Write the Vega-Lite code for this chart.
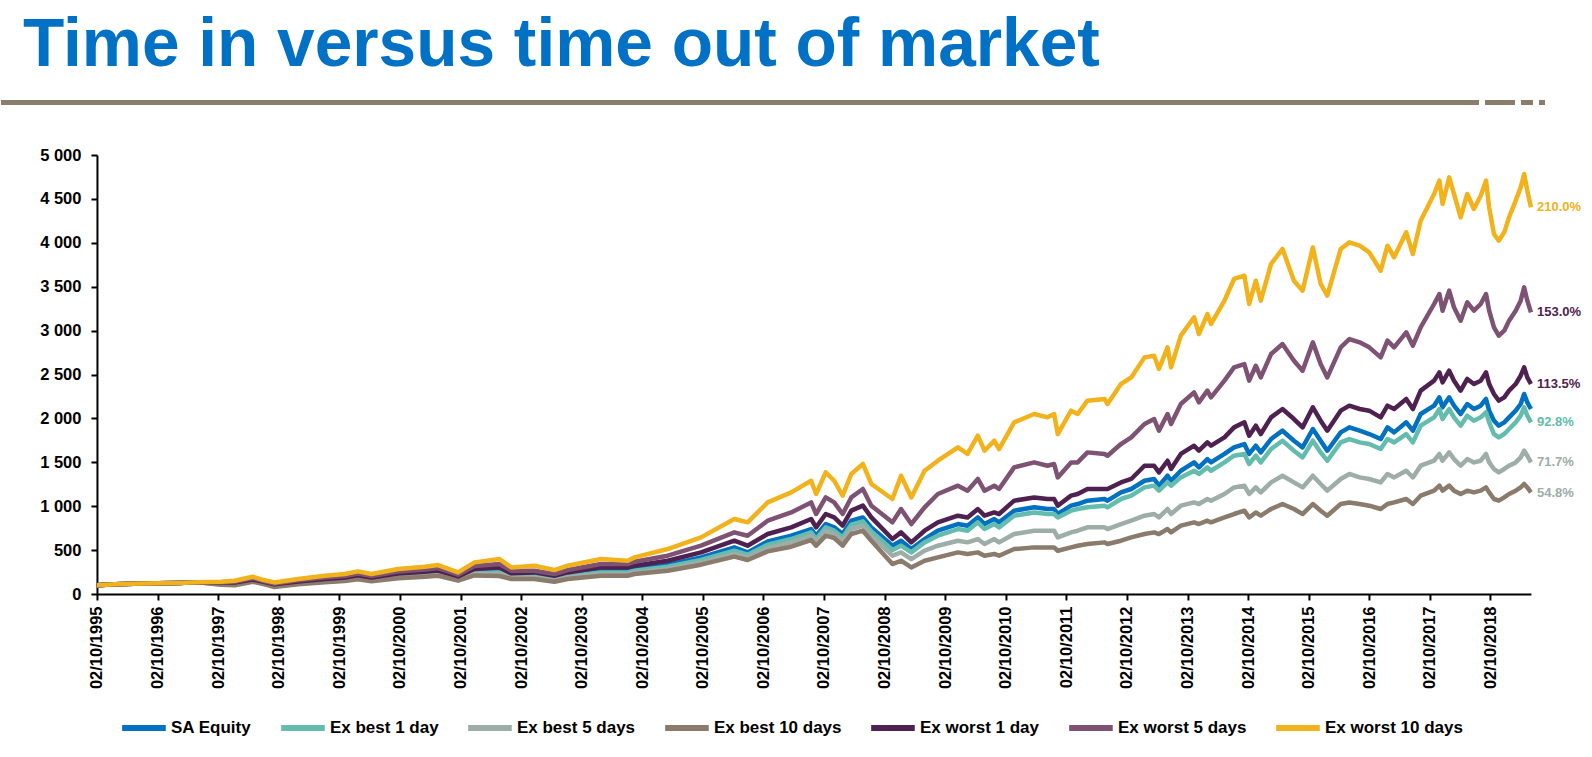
{
"$schema":"https://vega.github.io/schema/vega-lite/v6.json",
"padding":{"top":12,"left":0,"right":0,"bottom":0},
"background":"white",
"config":{"view":{"stroke":null},"font":"Liberation Sans"},
"title":{"text":"Time in versus time out of market","anchor":"start","dx":22,"offset":19,"font":"Liberation Sans","fontSize":67.6,"fontWeight":"bold","color":"#0071C5"},
"datasets":{
"labels":[
{"series":"Ex worst 10 days","date":"2019-06-04","value":4404,"label":"210.0%"},
{"series":"Ex worst 5 days","date":"2019-06-04","value":3208,"label":"153.0%"},
{"series":"Ex worst 1 day","date":"2019-06-04","value":2392,"label":"113.5%"},
{"series":"Ex best 1 day","date":"2019-06-04","value":1955,"label":"92.8%"},
{"series":"Ex best 5 days","date":"2019-06-04","value":1499,"label":"71.7%"},
{"series":"Ex best 10 days","date":"2019-06-04","value":1150,"label":"54.8%"}
],
"series":[
{"date":"1995-10-02","series":"SA Equity","value":100},{"date":"1996-01-20","series":"SA Equity","value":112},{"date":"1996-05-10","series":"SA Equity","value":118},{"date":"1996-10-02","series":"SA Equity","value":122},{"date":"1997-02-01","series":"SA Equity","value":126},{"date":"1997-06-01","series":"SA Equity","value":134},{"date":"1997-10-20","series":"SA Equity","value":125},{"date":"1998-01-09","series":"SA Equity","value":122},{"date":"1998-04-28","series":"SA Equity","value":158},{"date":"1998-07-03","series":"SA Equity","value":130},{"date":"1998-09-06","series":"SA Equity","value":102},{"date":"1999-01-27","series":"SA Equity","value":133},{"date":"1999-07-06","series":"SA Equity","value":160},{"date":"1999-11-04","series":"SA Equity","value":175},{"date":"2000-01-23","series":"SA Equity","value":200},{"date":"2000-04-13","series":"SA Equity","value":175},{"date":"2000-09-21","series":"SA Equity","value":216},{"date":"2001-03-01","series":"SA Equity","value":235},{"date":"2001-05-20","series":"SA Equity","value":250},{"date":"2001-09-17","series":"SA Equity","value":186},{"date":"2001-12-25","series":"SA Equity","value":262},{"date":"2002-05-25","series":"SA Equity","value":273},
{"date":"2002-08-05","series":"SA Equity","value":220},{"date":"2002-12-21","series":"SA Equity","value":228},{"date":"2003-04-21","series":"SA Equity","value":189},{"date":"2003-07-10","series":"SA Equity","value":220},{"date":"2004-01-27","series":"SA Equity","value":265},{"date":"2004-07-06","series":"SA Equity","value":265},{"date":"2004-08-16","series":"SA Equity","value":285},{"date":"2005-03-04","series":"SA Equity","value":334},{"date":"2005-09-21","series":"SA Equity","value":417},{"date":"2006-04-10","series":"SA Equity","value":531},{"date":"2006-06-29","series":"SA Equity","value":474},{"date":"2006-10-28","series":"SA Equity","value":599},{"date":"2007-03-19","series":"SA Equity","value":664},{"date":"2007-07-17","series":"SA Equity","value":740},{"date":"2007-08-16","series":"SA Equity","value":664},{"date":"2007-10-13","series":"SA Equity","value":797},{"date":"2007-12-03","series":"SA Equity","value":759},{"date":"2008-01-23","series":"SA Equity","value":683},{"date":"2008-03-15","series":"SA Equity","value":835},{"date":"2008-05-24","series":"SA Equity","value":872},{"date":"2008-07-14","series":"SA Equity","value":759},{"date":"2008-11-18","series":"SA Equity","value":550},{"date":"2009-01-09","series":"SA Equity","value":607},
{"date":"2009-03-12","series":"SA Equity","value":512},{"date":"2009-05-31","series":"SA Equity","value":626},{"date":"2009-08-19","series":"SA Equity","value":721},{"date":"2009-12-18","series":"SA Equity","value":797},{"date":"2010-02-14","series":"SA Equity","value":778},{"date":"2010-04-17","series":"SA Equity","value":872},{"date":"2010-05-27","series":"SA Equity","value":797},{"date":"2010-07-25","series":"SA Equity","value":854},{"date":"2010-08-23","series":"SA Equity","value":816},{"date":"2010-11-22","series":"SA Equity","value":949},{"date":"2011-03-23","series":"SA Equity","value":987},{"date":"2011-06-11","series":"SA Equity","value":968},{"date":"2011-07-21","series":"SA Equity","value":968},{"date":"2011-08-12","series":"SA Equity","value":911},{"date":"2011-10-31","series":"SA Equity","value":1006},{"date":"2011-12-10","series":"SA Equity","value":1025},{"date":"2012-02-07","series":"SA Equity","value":1063},{"date":"2012-05-20","series":"SA Equity","value":1082},{"date":"2012-06-07","series":"SA Equity","value":1063},{"date":"2012-08-27","series":"SA Equity","value":1157},{"date":"2012-10-28","series":"SA Equity","value":1196},{"date":"2013-01-16","series":"SA Equity","value":1290},{"date":"2013-03-15","series":"SA Equity","value":1310},{"date":"2013-04-13","series":"SA Equity","value":1234},{"date":"2013-06-04","series":"SA Equity","value":1347},{"date":"2013-06-25","series":"SA Equity","value":1290},{"date":"2013-08-23","series":"SA Equity","value":1404},{"date":"2013-11-11","series":"SA Equity","value":1499},{"date":"2013-12-10","series":"SA Equity","value":1442},{"date":"2014-01-30","series":"SA Equity","value":1537},{"date":"2014-02-21","series":"SA Equity","value":1499},{"date":"2014-05-13","series":"SA Equity","value":1595},{"date":"2014-07-10","series":"SA Equity","value":1670},{"date":"2014-09-10","series":"SA Equity","value":1708},
{"date":"2014-10-09","series":"SA Equity","value":1595},{"date":"2014-11-18","series":"SA Equity","value":1689},{"date":"2014-12-18","series":"SA Equity","value":1613},{"date":"2015-02-18","series":"SA Equity","value":1765},{"date":"2015-04-28","series":"SA Equity","value":1860},{"date":"2015-07-06","series":"SA Equity","value":1746},{"date":"2015-08-27","series":"SA Equity","value":1670},{"date":"2015-10-28","series":"SA Equity","value":1879},{"date":"2015-12-14","series":"SA Equity","value":1746},{"date":"2016-01-23","series":"SA Equity","value":1632},{"date":"2016-04-13","series":"SA Equity","value":1841},{"date":"2016-06-04","series":"SA Equity","value":1898},{"date":"2016-08-05","series":"SA Equity","value":1860},{"date":"2016-10-02","series":"SA Equity","value":1822},{"date":"2016-12-10","series":"SA Equity","value":1765},{"date":"2017-01-20","series":"SA Equity","value":1898},{"date":"2017-03-01","series":"SA Equity","value":1841},{"date":"2017-05-13","series":"SA Equity","value":1955},{"date":"2017-06-22","series":"SA Equity","value":1860},{"date":"2017-08-08","series":"SA Equity","value":2050},{"date":"2017-10-28","series":"SA Equity","value":2145},{"date":"2017-11-29","series":"SA Equity","value":2240},{"date":"2017-12-18","series":"SA Equity","value":2126},{"date":"2018-01-27","series":"SA Equity","value":2240},{"date":"2018-02-25","series":"SA Equity","value":2145},{"date":"2018-04-06","series":"SA Equity","value":2050},{"date":"2018-05-16","series":"SA Equity","value":2164},{"date":"2018-06-25","series":"SA Equity","value":2107},{"date":"2018-08-05","series":"SA Equity","value":2145},{"date":"2018-09-06","series":"SA Equity","value":2221},{"date":"2018-09-25","series":"SA Equity","value":2088},{"date":"2018-10-24","series":"SA Equity","value":1974},{"date":"2018-11-22","series":"SA Equity","value":1917},{"date":"2018-12-25","series":"SA Equity","value":1955},{"date":"2019-01-23","series":"SA Equity","value":2012},{"date":"2019-03-04","series":"SA Equity","value":2088},{"date":"2019-04-03","series":"SA Equity","value":2164},{"date":"2019-04-24","series":"SA Equity","value":2278},{"date":"2019-05-13","series":"SA Equity","value":2183},{"date":"2019-06-04","series":"SA Equity","value":2107},

{"date":"1995-10-02","series":"Ex best 1 day","value":100},{"date":"1996-01-20","series":"Ex best 1 day","value":112},{"date":"1996-05-10","series":"Ex best 1 day","value":118},{"date":"1996-10-02","series":"Ex best 1 day","value":122},{"date":"1997-02-01","series":"Ex best 1 day","value":126},{"date":"1997-06-01","series":"Ex best 1 day","value":134},{"date":"1997-10-20","series":"Ex best 1 day","value":120},{"date":"1998-01-09","series":"Ex best 1 day","value":115},{"date":"1998-04-28","series":"Ex best 1 day","value":152},{"date":"1998-07-03","series":"Ex best 1 day","value":125},{"date":"1998-09-06","series":"Ex best 1 day","value":96},{"date":"1999-01-27","series":"Ex best 1 day","value":126},{"date":"1999-07-06","series":"Ex best 1 day","value":152},{"date":"1999-11-04","series":"Ex best 1 day","value":166},{"date":"2000-01-23","series":"Ex best 1 day","value":190},{"date":"2000-04-13","series":"Ex best 1 day","value":166},{"date":"2000-09-21","series":"Ex best 1 day","value":205},{"date":"2001-03-01","series":"Ex best 1 day","value":222},{"date":"2001-05-20","series":"Ex best 1 day","value":236},{"date":"2001-09-17","series":"Ex best 1 day","value":176},{"date":"2001-12-25","series":"Ex best 1 day","value":245},{"date":"2002-05-25","series":"Ex best 1 day","value":246},
{"date":"2002-08-05","series":"Ex best 1 day","value":205},{"date":"2002-12-21","series":"Ex best 1 day","value":208},{"date":"2003-04-21","series":"Ex best 1 day","value":171},{"date":"2003-07-10","series":"Ex best 1 day","value":205},{"date":"2004-01-27","series":"Ex best 1 day","value":246},{"date":"2004-07-06","series":"Ex best 1 day","value":246},{"date":"2004-08-16","series":"Ex best 1 day","value":265},{"date":"2005-03-04","series":"Ex best 1 day","value":311},{"date":"2005-09-21","series":"Ex best 1 day","value":387},{"date":"2006-04-10","series":"Ex best 1 day","value":493},{"date":"2006-06-29","series":"Ex best 1 day","value":448},{"date":"2006-10-28","series":"Ex best 1 day","value":562},{"date":"2007-03-19","series":"Ex best 1 day","value":626},{"date":"2007-07-17","series":"Ex best 1 day","value":702},{"date":"2007-08-16","series":"Ex best 1 day","value":626},{"date":"2007-10-13","series":"Ex best 1 day","value":759},{"date":"2007-12-03","series":"Ex best 1 day","value":721},{"date":"2008-01-23","series":"Ex best 1 day","value":645},{"date":"2008-03-15","series":"Ex best 1 day","value":789},{"date":"2008-05-24","series":"Ex best 1 day","value":827},{"date":"2008-07-14","series":"Ex best 1 day","value":713},{"date":"2008-11-18","series":"Ex best 1 day","value":501},{"date":"2009-01-09","series":"Ex best 1 day","value":550},
{"date":"2009-03-12","series":"Ex best 1 day","value":474},{"date":"2009-05-31","series":"Ex best 1 day","value":588},{"date":"2009-08-19","series":"Ex best 1 day","value":664},{"date":"2009-12-18","series":"Ex best 1 day","value":740},{"date":"2010-02-14","series":"Ex best 1 day","value":721},{"date":"2010-04-17","series":"Ex best 1 day","value":816},{"date":"2010-05-27","series":"Ex best 1 day","value":740},{"date":"2010-07-25","series":"Ex best 1 day","value":797},{"date":"2010-08-23","series":"Ex best 1 day","value":759},{"date":"2010-11-22","series":"Ex best 1 day","value":892},{"date":"2011-03-23","series":"Ex best 1 day","value":929},{"date":"2011-06-11","series":"Ex best 1 day","value":911},{"date":"2011-07-21","series":"Ex best 1 day","value":911},{"date":"2011-08-12","series":"Ex best 1 day","value":872},{"date":"2011-10-31","series":"Ex best 1 day","value":949},{"date":"2011-12-10","series":"Ex best 1 day","value":968},{"date":"2012-02-07","series":"Ex best 1 day","value":987},{"date":"2012-05-20","series":"Ex best 1 day","value":1006},{"date":"2012-06-07","series":"Ex best 1 day","value":987},{"date":"2012-08-27","series":"Ex best 1 day","value":1082},{"date":"2012-10-28","series":"Ex best 1 day","value":1120},{"date":"2013-01-16","series":"Ex best 1 day","value":1214},{"date":"2013-03-15","series":"Ex best 1 day","value":1234},{"date":"2013-04-13","series":"Ex best 1 day","value":1177},{"date":"2013-06-04","series":"Ex best 1 day","value":1271},{"date":"2013-06-25","series":"Ex best 1 day","value":1234},{"date":"2013-08-23","series":"Ex best 1 day","value":1328},{"date":"2013-11-11","series":"Ex best 1 day","value":1404},{"date":"2013-12-10","series":"Ex best 1 day","value":1367},{"date":"2014-01-30","series":"Ex best 1 day","value":1442},{"date":"2014-02-21","series":"Ex best 1 day","value":1404},{"date":"2014-05-13","series":"Ex best 1 day","value":1499},{"date":"2014-07-10","series":"Ex best 1 day","value":1575},{"date":"2014-09-10","series":"Ex best 1 day","value":1595},
{"date":"2014-10-09","series":"Ex best 1 day","value":1481},{"date":"2014-11-18","series":"Ex best 1 day","value":1575},{"date":"2014-12-18","series":"Ex best 1 day","value":1499},{"date":"2015-02-18","series":"Ex best 1 day","value":1651},{"date":"2015-04-28","series":"Ex best 1 day","value":1746},{"date":"2015-07-06","series":"Ex best 1 day","value":1632},{"date":"2015-08-27","series":"Ex best 1 day","value":1556},{"date":"2015-10-28","series":"Ex best 1 day","value":1746},{"date":"2015-12-14","series":"Ex best 1 day","value":1613},{"date":"2016-01-23","series":"Ex best 1 day","value":1518},{"date":"2016-04-13","series":"Ex best 1 day","value":1727},{"date":"2016-06-04","series":"Ex best 1 day","value":1765},{"date":"2016-08-05","series":"Ex best 1 day","value":1727},{"date":"2016-10-02","series":"Ex best 1 day","value":1708},{"date":"2016-12-10","series":"Ex best 1 day","value":1651},{"date":"2017-01-20","series":"Ex best 1 day","value":1765},{"date":"2017-03-01","series":"Ex best 1 day","value":1727},{"date":"2017-05-13","series":"Ex best 1 day","value":1822},{"date":"2017-06-22","series":"Ex best 1 day","value":1727},{"date":"2017-08-08","series":"Ex best 1 day","value":1917},{"date":"2017-10-28","series":"Ex best 1 day","value":2012},{"date":"2017-11-29","series":"Ex best 1 day","value":2107},{"date":"2017-12-18","series":"Ex best 1 day","value":1993},{"date":"2018-01-27","series":"Ex best 1 day","value":2107},{"date":"2018-02-25","series":"Ex best 1 day","value":2012},{"date":"2018-04-06","series":"Ex best 1 day","value":1917},{"date":"2018-05-16","series":"Ex best 1 day","value":2031},{"date":"2018-06-25","series":"Ex best 1 day","value":1974},{"date":"2018-08-05","series":"Ex best 1 day","value":2012},{"date":"2018-09-06","series":"Ex best 1 day","value":2070},{"date":"2018-09-25","series":"Ex best 1 day","value":1955},{"date":"2018-10-24","series":"Ex best 1 day","value":1822},{"date":"2018-11-22","series":"Ex best 1 day","value":1784},{"date":"2018-12-25","series":"Ex best 1 day","value":1822},{"date":"2019-01-23","series":"Ex best 1 day","value":1879},{"date":"2019-03-04","series":"Ex best 1 day","value":1955},{"date":"2019-04-03","series":"Ex best 1 day","value":2031},{"date":"2019-04-24","series":"Ex best 1 day","value":2126},{"date":"2019-05-13","series":"Ex best 1 day","value":2031},{"date":"2019-06-04","series":"Ex best 1 day","value":1955},

{"date":"1995-10-02","series":"Ex best 5 days","value":100},{"date":"1996-01-20","series":"Ex best 5 days","value":112},{"date":"1996-05-10","series":"Ex best 5 days","value":118},{"date":"1996-10-02","series":"Ex best 5 days","value":122},{"date":"1997-02-01","series":"Ex best 5 days","value":126},{"date":"1997-06-01","series":"Ex best 5 days","value":134},{"date":"1997-10-20","series":"Ex best 5 days","value":112},{"date":"1998-01-09","series":"Ex best 5 days","value":108},{"date":"1998-04-28","series":"Ex best 5 days","value":145},{"date":"1998-07-03","series":"Ex best 5 days","value":118},{"date":"1998-09-06","series":"Ex best 5 days","value":88},{"date":"1999-01-27","series":"Ex best 5 days","value":118},{"date":"1999-07-06","series":"Ex best 5 days","value":142},{"date":"1999-11-04","series":"Ex best 5 days","value":155},{"date":"2000-01-23","series":"Ex best 5 days","value":178},{"date":"2000-04-13","series":"Ex best 5 days","value":155},{"date":"2000-09-21","series":"Ex best 5 days","value":190},{"date":"2001-03-01","series":"Ex best 5 days","value":207},{"date":"2001-05-20","series":"Ex best 5 days","value":220},{"date":"2001-09-17","series":"Ex best 5 days","value":164},{"date":"2001-12-25","series":"Ex best 5 days","value":228},{"date":"2002-05-25","series":"Ex best 5 days","value":228},
{"date":"2002-08-05","series":"Ex best 5 days","value":189},{"date":"2002-12-21","series":"Ex best 5 days","value":189},{"date":"2003-04-21","series":"Ex best 5 days","value":151},{"date":"2003-07-10","series":"Ex best 5 days","value":189},{"date":"2004-01-27","series":"Ex best 5 days","value":228},{"date":"2004-07-06","series":"Ex best 5 days","value":228},{"date":"2004-08-16","series":"Ex best 5 days","value":246},{"date":"2005-03-04","series":"Ex best 5 days","value":285},{"date":"2005-09-21","series":"Ex best 5 days","value":360},{"date":"2006-04-10","series":"Ex best 5 days","value":456},{"date":"2006-06-29","series":"Ex best 5 days","value":417},{"date":"2006-10-28","series":"Ex best 5 days","value":524},{"date":"2007-03-19","series":"Ex best 5 days","value":588},{"date":"2007-07-17","series":"Ex best 5 days","value":664},{"date":"2007-08-16","series":"Ex best 5 days","value":599},{"date":"2007-10-13","series":"Ex best 5 days","value":721},{"date":"2007-12-03","series":"Ex best 5 days","value":683},{"date":"2008-01-23","series":"Ex best 5 days","value":607},{"date":"2008-03-15","series":"Ex best 5 days","value":740},{"date":"2008-05-24","series":"Ex best 5 days","value":778},{"date":"2008-07-14","series":"Ex best 5 days","value":664},{"date":"2008-11-18","series":"Ex best 5 days","value":436},{"date":"2009-01-09","series":"Ex best 5 days","value":474},
{"date":"2009-03-12","series":"Ex best 5 days","value":398},{"date":"2009-05-31","series":"Ex best 5 days","value":493},{"date":"2009-08-19","series":"Ex best 5 days","value":550},{"date":"2009-12-18","series":"Ex best 5 days","value":607},{"date":"2010-02-14","series":"Ex best 5 days","value":588},{"date":"2010-04-17","series":"Ex best 5 days","value":626},{"date":"2010-05-27","series":"Ex best 5 days","value":569},{"date":"2010-07-25","series":"Ex best 5 days","value":626},{"date":"2010-08-23","series":"Ex best 5 days","value":588},{"date":"2010-11-22","series":"Ex best 5 days","value":683},{"date":"2011-03-23","series":"Ex best 5 days","value":721},{"date":"2011-06-11","series":"Ex best 5 days","value":721},{"date":"2011-07-21","series":"Ex best 5 days","value":721},{"date":"2011-08-12","series":"Ex best 5 days","value":645},{"date":"2011-10-31","series":"Ex best 5 days","value":702},{"date":"2011-12-10","series":"Ex best 5 days","value":721},{"date":"2012-02-07","series":"Ex best 5 days","value":759},{"date":"2012-05-20","series":"Ex best 5 days","value":759},{"date":"2012-06-07","series":"Ex best 5 days","value":740},{"date":"2012-08-27","series":"Ex best 5 days","value":797},{"date":"2012-10-28","series":"Ex best 5 days","value":835},{"date":"2013-01-16","series":"Ex best 5 days","value":892},{"date":"2013-03-15","series":"Ex best 5 days","value":911},{"date":"2013-04-13","series":"Ex best 5 days","value":872},{"date":"2013-06-04","series":"Ex best 5 days","value":968},{"date":"2013-06-25","series":"Ex best 5 days","value":911},{"date":"2013-08-23","series":"Ex best 5 days","value":1006},{"date":"2013-11-11","series":"Ex best 5 days","value":1043},{"date":"2013-12-10","series":"Ex best 5 days","value":1025},{"date":"2014-01-30","series":"Ex best 5 days","value":1082},{"date":"2014-02-21","series":"Ex best 5 days","value":1063},{"date":"2014-05-13","series":"Ex best 5 days","value":1139},{"date":"2014-07-10","series":"Ex best 5 days","value":1214},{"date":"2014-09-10","series":"Ex best 5 days","value":1234},
{"date":"2014-10-09","series":"Ex best 5 days","value":1139},{"date":"2014-11-18","series":"Ex best 5 days","value":1214},{"date":"2014-12-18","series":"Ex best 5 days","value":1157},{"date":"2015-02-18","series":"Ex best 5 days","value":1271},{"date":"2015-04-28","series":"Ex best 5 days","value":1347},{"date":"2015-07-06","series":"Ex best 5 days","value":1271},{"date":"2015-08-27","series":"Ex best 5 days","value":1214},{"date":"2015-10-28","series":"Ex best 5 days","value":1347},{"date":"2015-12-14","series":"Ex best 5 days","value":1253},{"date":"2016-01-23","series":"Ex best 5 days","value":1177},{"date":"2016-04-13","series":"Ex best 5 days","value":1310},{"date":"2016-06-04","series":"Ex best 5 days","value":1367},{"date":"2016-08-05","series":"Ex best 5 days","value":1328},{"date":"2016-10-02","series":"Ex best 5 days","value":1310},{"date":"2016-12-10","series":"Ex best 5 days","value":1271},{"date":"2017-01-20","series":"Ex best 5 days","value":1367},{"date":"2017-03-01","series":"Ex best 5 days","value":1328},{"date":"2017-05-13","series":"Ex best 5 days","value":1404},{"date":"2017-06-22","series":"Ex best 5 days","value":1328},{"date":"2017-08-08","series":"Ex best 5 days","value":1461},{"date":"2017-10-28","series":"Ex best 5 days","value":1518},{"date":"2017-11-29","series":"Ex best 5 days","value":1595},{"date":"2017-12-18","series":"Ex best 5 days","value":1518},{"date":"2018-01-27","series":"Ex best 5 days","value":1613},{"date":"2018-02-25","series":"Ex best 5 days","value":1537},{"date":"2018-04-06","series":"Ex best 5 days","value":1461},{"date":"2018-05-16","series":"Ex best 5 days","value":1537},{"date":"2018-06-25","series":"Ex best 5 days","value":1499},{"date":"2018-08-05","series":"Ex best 5 days","value":1518},{"date":"2018-09-06","series":"Ex best 5 days","value":1595},{"date":"2018-09-25","series":"Ex best 5 days","value":1499},{"date":"2018-10-24","series":"Ex best 5 days","value":1424},{"date":"2018-11-22","series":"Ex best 5 days","value":1385},{"date":"2018-12-25","series":"Ex best 5 days","value":1424},{"date":"2019-01-23","series":"Ex best 5 days","value":1461},{"date":"2019-03-04","series":"Ex best 5 days","value":1499},{"date":"2019-04-03","series":"Ex best 5 days","value":1556},{"date":"2019-04-24","series":"Ex best 5 days","value":1632},{"date":"2019-05-13","series":"Ex best 5 days","value":1575},{"date":"2019-06-04","series":"Ex best 5 days","value":1499},

{"date":"1995-10-02","series":"Ex best 10 days","value":100},{"date":"1996-01-20","series":"Ex best 10 days","value":112},{"date":"1996-05-10","series":"Ex best 10 days","value":118},{"date":"1996-10-02","series":"Ex best 10 days","value":122},{"date":"1997-02-01","series":"Ex best 10 days","value":126},{"date":"1997-06-01","series":"Ex best 10 days","value":134},{"date":"1997-10-20","series":"Ex best 10 days","value":106},{"date":"1998-01-09","series":"Ex best 10 days","value":100},{"date":"1998-04-28","series":"Ex best 10 days","value":140},{"date":"1998-07-03","series":"Ex best 10 days","value":112},{"date":"1998-09-06","series":"Ex best 10 days","value":80},{"date":"1999-01-27","series":"Ex best 10 days","value":110},{"date":"1999-07-06","series":"Ex best 10 days","value":134},{"date":"1999-11-04","series":"Ex best 10 days","value":147},{"date":"2000-01-23","series":"Ex best 10 days","value":168},{"date":"2000-04-13","series":"Ex best 10 days","value":146},{"date":"2000-09-21","series":"Ex best 10 days","value":180},{"date":"2001-03-01","series":"Ex best 10 days","value":196},{"date":"2001-05-20","series":"Ex best 10 days","value":208},{"date":"2001-09-17","series":"Ex best 10 days","value":152},{"date":"2001-12-25","series":"Ex best 10 days","value":212},{"date":"2002-05-25","series":"Ex best 10 days","value":205},
{"date":"2002-08-05","series":"Ex best 10 days","value":171},{"date":"2002-12-21","series":"Ex best 10 days","value":171},{"date":"2003-04-21","series":"Ex best 10 days","value":140},{"date":"2003-07-10","series":"Ex best 10 days","value":171},{"date":"2004-01-27","series":"Ex best 10 days","value":208},{"date":"2004-07-06","series":"Ex best 10 days","value":208},{"date":"2004-08-16","series":"Ex best 10 days","value":228},{"date":"2005-03-04","series":"Ex best 10 days","value":265},{"date":"2005-09-21","series":"Ex best 10 days","value":334},{"date":"2006-04-10","series":"Ex best 10 days","value":425},{"date":"2006-06-29","series":"Ex best 10 days","value":387},{"date":"2006-10-28","series":"Ex best 10 days","value":485},{"date":"2007-03-19","series":"Ex best 10 days","value":539},{"date":"2007-07-17","series":"Ex best 10 days","value":615},{"date":"2007-08-16","series":"Ex best 10 days","value":550},{"date":"2007-10-13","series":"Ex best 10 days","value":664},{"date":"2007-12-03","series":"Ex best 10 days","value":638},{"date":"2008-01-23","series":"Ex best 10 days","value":550},{"date":"2008-03-15","series":"Ex best 10 days","value":683},{"date":"2008-05-24","series":"Ex best 10 days","value":721},{"date":"2008-07-14","series":"Ex best 10 days","value":607},{"date":"2008-11-18","series":"Ex best 10 days","value":341},{"date":"2009-01-09","series":"Ex best 10 days","value":379},
{"date":"2009-03-12","series":"Ex best 10 days","value":303},{"date":"2009-05-31","series":"Ex best 10 days","value":379},{"date":"2009-08-19","series":"Ex best 10 days","value":417},{"date":"2009-12-18","series":"Ex best 10 days","value":474},{"date":"2010-02-14","series":"Ex best 10 days","value":456},{"date":"2010-04-17","series":"Ex best 10 days","value":474},{"date":"2010-05-27","series":"Ex best 10 days","value":436},{"date":"2010-07-25","series":"Ex best 10 days","value":456},{"date":"2010-08-23","series":"Ex best 10 days","value":436},{"date":"2010-11-22","series":"Ex best 10 days","value":512},{"date":"2011-03-23","series":"Ex best 10 days","value":531},{"date":"2011-06-11","series":"Ex best 10 days","value":531},{"date":"2011-07-21","series":"Ex best 10 days","value":531},{"date":"2011-08-12","series":"Ex best 10 days","value":493},{"date":"2011-10-31","series":"Ex best 10 days","value":531},{"date":"2011-12-10","series":"Ex best 10 days","value":550},{"date":"2012-02-07","series":"Ex best 10 days","value":569},{"date":"2012-05-20","series":"Ex best 10 days","value":588},{"date":"2012-06-07","series":"Ex best 10 days","value":569},{"date":"2012-08-27","series":"Ex best 10 days","value":607},{"date":"2012-10-28","series":"Ex best 10 days","value":645},{"date":"2013-01-16","series":"Ex best 10 days","value":683},{"date":"2013-03-15","series":"Ex best 10 days","value":702},{"date":"2013-04-13","series":"Ex best 10 days","value":683},{"date":"2013-06-04","series":"Ex best 10 days","value":740},{"date":"2013-06-25","series":"Ex best 10 days","value":702},{"date":"2013-08-23","series":"Ex best 10 days","value":778},{"date":"2013-11-11","series":"Ex best 10 days","value":816},{"date":"2013-12-10","series":"Ex best 10 days","value":797},{"date":"2014-01-30","series":"Ex best 10 days","value":835},{"date":"2014-02-21","series":"Ex best 10 days","value":816},{"date":"2014-05-13","series":"Ex best 10 days","value":872},{"date":"2014-07-10","series":"Ex best 10 days","value":911},{"date":"2014-09-10","series":"Ex best 10 days","value":949},
{"date":"2014-10-09","series":"Ex best 10 days","value":872},{"date":"2014-11-18","series":"Ex best 10 days","value":929},{"date":"2014-12-18","series":"Ex best 10 days","value":892},{"date":"2015-02-18","series":"Ex best 10 days","value":968},{"date":"2015-04-28","series":"Ex best 10 days","value":1025},{"date":"2015-07-06","series":"Ex best 10 days","value":968},{"date":"2015-08-27","series":"Ex best 10 days","value":911},{"date":"2015-10-28","series":"Ex best 10 days","value":1025},{"date":"2015-12-14","series":"Ex best 10 days","value":949},{"date":"2016-01-23","series":"Ex best 10 days","value":892},{"date":"2016-04-13","series":"Ex best 10 days","value":1025},{"date":"2016-06-04","series":"Ex best 10 days","value":1043},{"date":"2016-08-05","series":"Ex best 10 days","value":1025},{"date":"2016-10-02","series":"Ex best 10 days","value":1006},{"date":"2016-12-10","series":"Ex best 10 days","value":968},{"date":"2017-01-20","series":"Ex best 10 days","value":1025},{"date":"2017-03-01","series":"Ex best 10 days","value":1043},{"date":"2017-05-13","series":"Ex best 10 days","value":1082},{"date":"2017-06-22","series":"Ex best 10 days","value":1025},{"date":"2017-08-08","series":"Ex best 10 days","value":1120},{"date":"2017-10-28","series":"Ex best 10 days","value":1177},{"date":"2017-11-29","series":"Ex best 10 days","value":1234},{"date":"2017-12-18","series":"Ex best 10 days","value":1177},{"date":"2018-01-27","series":"Ex best 10 days","value":1234},{"date":"2018-02-25","series":"Ex best 10 days","value":1177},{"date":"2018-04-06","series":"Ex best 10 days","value":1139},{"date":"2018-05-16","series":"Ex best 10 days","value":1177},{"date":"2018-06-25","series":"Ex best 10 days","value":1157},{"date":"2018-08-05","series":"Ex best 10 days","value":1177},{"date":"2018-09-06","series":"Ex best 10 days","value":1214},{"date":"2018-09-25","series":"Ex best 10 days","value":1157},{"date":"2018-10-24","series":"Ex best 10 days","value":1082},{"date":"2018-11-22","series":"Ex best 10 days","value":1063},{"date":"2018-12-25","series":"Ex best 10 days","value":1100},{"date":"2019-01-23","series":"Ex best 10 days","value":1139},{"date":"2019-03-04","series":"Ex best 10 days","value":1177},{"date":"2019-04-03","series":"Ex best 10 days","value":1214},{"date":"2019-04-24","series":"Ex best 10 days","value":1253},{"date":"2019-05-13","series":"Ex best 10 days","value":1214},{"date":"2019-06-04","series":"Ex best 10 days","value":1157},

{"date":"1995-10-02","series":"Ex worst 1 day","value":100},{"date":"1996-01-20","series":"Ex worst 1 day","value":112},{"date":"1996-05-10","series":"Ex worst 1 day","value":118},{"date":"1996-10-02","series":"Ex worst 1 day","value":122},{"date":"1997-02-01","series":"Ex worst 1 day","value":126},{"date":"1997-06-01","series":"Ex worst 1 day","value":134},{"date":"1997-10-20","series":"Ex worst 1 day","value":130},{"date":"1998-01-09","series":"Ex worst 1 day","value":130},{"date":"1998-04-28","series":"Ex worst 1 day","value":165},{"date":"1998-07-03","series":"Ex worst 1 day","value":138},{"date":"1998-09-06","series":"Ex worst 1 day","value":110},{"date":"1999-01-27","series":"Ex worst 1 day","value":142},{"date":"1999-07-06","series":"Ex worst 1 day","value":172},{"date":"1999-11-04","series":"Ex worst 1 day","value":188},{"date":"2000-01-23","series":"Ex worst 1 day","value":214},{"date":"2000-04-13","series":"Ex worst 1 day","value":188},{"date":"2000-09-21","series":"Ex worst 1 day","value":232},{"date":"2001-03-01","series":"Ex worst 1 day","value":253},{"date":"2001-05-20","series":"Ex worst 1 day","value":268},{"date":"2001-09-17","series":"Ex worst 1 day","value":200},{"date":"2001-12-25","series":"Ex worst 1 day","value":285},{"date":"2002-05-25","series":"Ex worst 1 day","value":303},
{"date":"2002-08-05","series":"Ex worst 1 day","value":235},{"date":"2002-12-21","series":"Ex worst 1 day","value":246},{"date":"2003-04-21","series":"Ex worst 1 day","value":208},{"date":"2003-07-10","series":"Ex worst 1 day","value":246},{"date":"2004-01-27","series":"Ex worst 1 day","value":303},{"date":"2004-07-06","series":"Ex worst 1 day","value":303},{"date":"2004-08-16","series":"Ex worst 1 day","value":322},{"date":"2005-03-04","series":"Ex worst 1 day","value":379},{"date":"2005-09-21","series":"Ex worst 1 day","value":474},{"date":"2006-04-10","series":"Ex worst 1 day","value":607},{"date":"2006-06-29","series":"Ex worst 1 day","value":550},{"date":"2006-10-28","series":"Ex worst 1 day","value":683},{"date":"2007-03-19","series":"Ex worst 1 day","value":759},{"date":"2007-07-17","series":"Ex worst 1 day","value":854},{"date":"2007-08-16","series":"Ex worst 1 day","value":759},{"date":"2007-10-13","series":"Ex worst 1 day","value":911},{"date":"2007-12-03","series":"Ex worst 1 day","value":872},{"date":"2008-01-23","series":"Ex worst 1 day","value":778},{"date":"2008-03-15","series":"Ex worst 1 day","value":949},{"date":"2008-05-24","series":"Ex worst 1 day","value":1006},{"date":"2008-07-14","series":"Ex worst 1 day","value":872},{"date":"2008-11-18","series":"Ex worst 1 day","value":626},{"date":"2009-01-09","series":"Ex worst 1 day","value":702},
{"date":"2009-03-12","series":"Ex worst 1 day","value":588},{"date":"2009-05-31","series":"Ex worst 1 day","value":721},{"date":"2009-08-19","series":"Ex worst 1 day","value":816},{"date":"2009-12-18","series":"Ex worst 1 day","value":892},{"date":"2010-02-14","series":"Ex worst 1 day","value":872},{"date":"2010-04-17","series":"Ex worst 1 day","value":968},{"date":"2010-05-27","series":"Ex worst 1 day","value":892},{"date":"2010-07-25","series":"Ex worst 1 day","value":929},{"date":"2010-08-23","series":"Ex worst 1 day","value":911},{"date":"2010-11-22","series":"Ex worst 1 day","value":1063},{"date":"2011-03-23","series":"Ex worst 1 day","value":1100},{"date":"2011-06-11","series":"Ex worst 1 day","value":1082},{"date":"2011-07-21","series":"Ex worst 1 day","value":1082},{"date":"2011-08-12","series":"Ex worst 1 day","value":1006},{"date":"2011-10-31","series":"Ex worst 1 day","value":1120},{"date":"2011-12-10","series":"Ex worst 1 day","value":1139},{"date":"2012-02-07","series":"Ex worst 1 day","value":1196},{"date":"2012-05-20","series":"Ex worst 1 day","value":1196},{"date":"2012-06-07","series":"Ex worst 1 day","value":1196},{"date":"2012-08-27","series":"Ex worst 1 day","value":1271},{"date":"2012-10-28","series":"Ex worst 1 day","value":1310},{"date":"2013-01-16","series":"Ex worst 1 day","value":1461},{"date":"2013-03-15","series":"Ex worst 1 day","value":1461},{"date":"2013-04-13","series":"Ex worst 1 day","value":1385},{"date":"2013-06-04","series":"Ex worst 1 day","value":1518},{"date":"2013-06-25","series":"Ex worst 1 day","value":1424},{"date":"2013-08-23","series":"Ex worst 1 day","value":1595},{"date":"2013-11-11","series":"Ex worst 1 day","value":1689},{"date":"2013-12-10","series":"Ex worst 1 day","value":1632},{"date":"2014-01-30","series":"Ex worst 1 day","value":1727},{"date":"2014-02-21","series":"Ex worst 1 day","value":1689},{"date":"2014-05-13","series":"Ex worst 1 day","value":1784},{"date":"2014-07-10","series":"Ex worst 1 day","value":1898},{"date":"2014-09-10","series":"Ex worst 1 day","value":1955},
{"date":"2014-10-09","series":"Ex worst 1 day","value":1803},{"date":"2014-11-18","series":"Ex worst 1 day","value":1917},{"date":"2014-12-18","series":"Ex worst 1 day","value":1822},{"date":"2015-02-18","series":"Ex worst 1 day","value":2012},{"date":"2015-04-28","series":"Ex worst 1 day","value":2107},{"date":"2015-07-06","series":"Ex worst 1 day","value":1993},{"date":"2015-08-27","series":"Ex worst 1 day","value":1898},{"date":"2015-10-28","series":"Ex worst 1 day","value":2126},{"date":"2015-12-14","series":"Ex worst 1 day","value":1974},{"date":"2016-01-23","series":"Ex worst 1 day","value":1860},{"date":"2016-04-13","series":"Ex worst 1 day","value":2088},{"date":"2016-06-04","series":"Ex worst 1 day","value":2145},{"date":"2016-08-05","series":"Ex worst 1 day","value":2107},{"date":"2016-10-02","series":"Ex worst 1 day","value":2088},{"date":"2016-12-10","series":"Ex worst 1 day","value":2012},{"date":"2017-01-20","series":"Ex worst 1 day","value":2145},{"date":"2017-03-01","series":"Ex worst 1 day","value":2107},{"date":"2017-05-13","series":"Ex worst 1 day","value":2221},{"date":"2017-06-22","series":"Ex worst 1 day","value":2107},{"date":"2017-08-08","series":"Ex worst 1 day","value":2316},{"date":"2017-10-28","series":"Ex worst 1 day","value":2430},{"date":"2017-11-29","series":"Ex worst 1 day","value":2524},{"date":"2017-12-18","series":"Ex worst 1 day","value":2410},{"date":"2018-01-27","series":"Ex worst 1 day","value":2543},{"date":"2018-02-25","series":"Ex worst 1 day","value":2430},{"date":"2018-04-06","series":"Ex worst 1 day","value":2316},{"date":"2018-05-16","series":"Ex worst 1 day","value":2449},{"date":"2018-06-25","series":"Ex worst 1 day","value":2392},{"date":"2018-08-05","series":"Ex worst 1 day","value":2430},{"date":"2018-09-06","series":"Ex worst 1 day","value":2524},{"date":"2018-09-25","series":"Ex worst 1 day","value":2392},{"date":"2018-10-24","series":"Ex worst 1 day","value":2278},{"date":"2018-11-22","series":"Ex worst 1 day","value":2202},{"date":"2018-12-25","series":"Ex worst 1 day","value":2240},{"date":"2019-01-23","series":"Ex worst 1 day","value":2316},{"date":"2019-03-04","series":"Ex worst 1 day","value":2392},{"date":"2019-04-03","series":"Ex worst 1 day","value":2486},{"date":"2019-04-24","series":"Ex worst 1 day","value":2581},{"date":"2019-05-13","series":"Ex worst 1 day","value":2467},{"date":"2019-06-04","series":"Ex worst 1 day","value":2392},

{"date":"1995-10-02","series":"Ex worst 5 days","value":100},{"date":"1996-01-20","series":"Ex worst 5 days","value":112},{"date":"1996-05-10","series":"Ex worst 5 days","value":118},{"date":"1996-10-02","series":"Ex worst 5 days","value":122},{"date":"1997-02-01","series":"Ex worst 5 days","value":126},{"date":"1997-06-01","series":"Ex worst 5 days","value":134},{"date":"1997-10-20","series":"Ex worst 5 days","value":135},{"date":"1998-01-09","series":"Ex worst 5 days","value":140},{"date":"1998-04-28","series":"Ex worst 5 days","value":180},{"date":"1998-07-03","series":"Ex worst 5 days","value":148},{"date":"1998-09-06","series":"Ex worst 5 days","value":120},{"date":"1999-01-27","series":"Ex worst 5 days","value":155},{"date":"1999-07-06","series":"Ex worst 5 days","value":188},{"date":"1999-11-04","series":"Ex worst 5 days","value":205},{"date":"2000-01-23","series":"Ex worst 5 days","value":233},{"date":"2000-04-13","series":"Ex worst 5 days","value":205},{"date":"2000-09-21","series":"Ex worst 5 days","value":255},{"date":"2001-03-01","series":"Ex worst 5 days","value":278},{"date":"2001-05-20","series":"Ex worst 5 days","value":295},{"date":"2001-09-17","series":"Ex worst 5 days","value":220},{"date":"2001-12-25","series":"Ex worst 5 days","value":318},{"date":"2002-05-25","series":"Ex worst 5 days","value":341},
{"date":"2002-08-05","series":"Ex worst 5 days","value":265},{"date":"2002-12-21","series":"Ex worst 5 days","value":265},{"date":"2003-04-21","series":"Ex worst 5 days","value":228},{"date":"2003-07-10","series":"Ex worst 5 days","value":273},{"date":"2004-01-27","series":"Ex worst 5 days","value":341},{"date":"2004-07-06","series":"Ex worst 5 days","value":341},{"date":"2004-08-16","series":"Ex worst 5 days","value":368},{"date":"2005-03-04","series":"Ex worst 5 days","value":436},{"date":"2005-09-21","series":"Ex worst 5 days","value":550},{"date":"2006-04-10","series":"Ex worst 5 days","value":702},{"date":"2006-06-29","series":"Ex worst 5 days","value":664},{"date":"2006-10-28","series":"Ex worst 5 days","value":835},{"date":"2007-03-19","series":"Ex worst 5 days","value":929},{"date":"2007-07-17","series":"Ex worst 5 days","value":1043},{"date":"2007-08-16","series":"Ex worst 5 days","value":911},{"date":"2007-10-13","series":"Ex worst 5 days","value":1100},{"date":"2007-12-03","series":"Ex worst 5 days","value":1043},{"date":"2008-01-23","series":"Ex worst 5 days","value":911},{"date":"2008-03-15","series":"Ex worst 5 days","value":1100},{"date":"2008-05-24","series":"Ex worst 5 days","value":1196},{"date":"2008-07-14","series":"Ex worst 5 days","value":1006},{"date":"2008-11-18","series":"Ex worst 5 days","value":816},{"date":"2009-01-09","series":"Ex worst 5 days","value":968},
{"date":"2009-03-12","series":"Ex worst 5 days","value":797},{"date":"2009-05-31","series":"Ex worst 5 days","value":987},{"date":"2009-08-19","series":"Ex worst 5 days","value":1139},{"date":"2009-12-18","series":"Ex worst 5 days","value":1234},{"date":"2010-02-14","series":"Ex worst 5 days","value":1177},{"date":"2010-04-17","series":"Ex worst 5 days","value":1310},{"date":"2010-05-27","series":"Ex worst 5 days","value":1177},{"date":"2010-07-25","series":"Ex worst 5 days","value":1234},{"date":"2010-08-23","series":"Ex worst 5 days","value":1196},{"date":"2010-11-22","series":"Ex worst 5 days","value":1442},{"date":"2011-03-23","series":"Ex worst 5 days","value":1499},{"date":"2011-06-11","series":"Ex worst 5 days","value":1461},{"date":"2011-07-21","series":"Ex worst 5 days","value":1481},{"date":"2011-08-12","series":"Ex worst 5 days","value":1328},{"date":"2011-10-31","series":"Ex worst 5 days","value":1499},{"date":"2011-12-10","series":"Ex worst 5 days","value":1499},{"date":"2012-02-07","series":"Ex worst 5 days","value":1613},{"date":"2012-05-20","series":"Ex worst 5 days","value":1595},{"date":"2012-06-07","series":"Ex worst 5 days","value":1575},{"date":"2012-08-27","series":"Ex worst 5 days","value":1708},{"date":"2012-10-28","series":"Ex worst 5 days","value":1784},{"date":"2013-01-16","series":"Ex worst 5 days","value":1936},{"date":"2013-03-15","series":"Ex worst 5 days","value":1993},{"date":"2013-04-13","series":"Ex worst 5 days","value":1860},{"date":"2013-06-04","series":"Ex worst 5 days","value":2050},{"date":"2013-06-25","series":"Ex worst 5 days","value":1936},{"date":"2013-08-23","series":"Ex worst 5 days","value":2164},{"date":"2013-11-11","series":"Ex worst 5 days","value":2296},{"date":"2013-12-10","series":"Ex worst 5 days","value":2183},{"date":"2014-01-30","series":"Ex worst 5 days","value":2316},{"date":"2014-02-21","series":"Ex worst 5 days","value":2240},{"date":"2014-05-13","series":"Ex worst 5 days","value":2430},{"date":"2014-07-10","series":"Ex worst 5 days","value":2581},{"date":"2014-09-10","series":"Ex worst 5 days","value":2619},
{"date":"2014-10-09","series":"Ex worst 5 days","value":2430},{"date":"2014-11-18","series":"Ex worst 5 days","value":2600},{"date":"2014-12-18","series":"Ex worst 5 days","value":2467},{"date":"2015-02-18","series":"Ex worst 5 days","value":2733},{"date":"2015-04-28","series":"Ex worst 5 days","value":2847},{"date":"2015-07-06","series":"Ex worst 5 days","value":2657},{"date":"2015-08-27","series":"Ex worst 5 days","value":2543},{"date":"2015-10-28","series":"Ex worst 5 days","value":2866},{"date":"2015-12-14","series":"Ex worst 5 days","value":2619},{"date":"2016-01-23","series":"Ex worst 5 days","value":2467},{"date":"2016-04-13","series":"Ex worst 5 days","value":2809},{"date":"2016-06-04","series":"Ex worst 5 days","value":2904},{"date":"2016-08-05","series":"Ex worst 5 days","value":2866},{"date":"2016-10-02","series":"Ex worst 5 days","value":2809},{"date":"2016-12-10","series":"Ex worst 5 days","value":2695},{"date":"2017-01-20","series":"Ex worst 5 days","value":2885},{"date":"2017-03-01","series":"Ex worst 5 days","value":2809},{"date":"2017-05-13","series":"Ex worst 5 days","value":2980},{"date":"2017-06-22","series":"Ex worst 5 days","value":2828},{"date":"2017-08-08","series":"Ex worst 5 days","value":3037},{"date":"2017-10-28","series":"Ex worst 5 days","value":3303},{"date":"2017-11-29","series":"Ex worst 5 days","value":3417},{"date":"2017-12-18","series":"Ex worst 5 days","value":3227},{"date":"2018-01-27","series":"Ex worst 5 days","value":3455},{"date":"2018-02-25","series":"Ex worst 5 days","value":3265},{"date":"2018-04-06","series":"Ex worst 5 days","value":3113},{"date":"2018-05-16","series":"Ex worst 5 days","value":3322},{"date":"2018-06-25","series":"Ex worst 5 days","value":3227},{"date":"2018-08-05","series":"Ex worst 5 days","value":3303},{"date":"2018-09-06","series":"Ex worst 5 days","value":3417},{"date":"2018-09-25","series":"Ex worst 5 days","value":3227},{"date":"2018-10-24","series":"Ex worst 5 days","value":3037},{"date":"2018-11-22","series":"Ex worst 5 days","value":2942},{"date":"2018-12-25","series":"Ex worst 5 days","value":2999},{"date":"2019-01-23","series":"Ex worst 5 days","value":3113},{"date":"2019-03-04","series":"Ex worst 5 days","value":3227},{"date":"2019-04-03","series":"Ex worst 5 days","value":3341},{"date":"2019-04-24","series":"Ex worst 5 days","value":3492},{"date":"2019-05-13","series":"Ex worst 5 days","value":3341},{"date":"2019-06-04","series":"Ex worst 5 days","value":3208},

{"date":"1995-10-02","series":"Ex worst 10 days","value":100},{"date":"1996-01-20","series":"Ex worst 10 days","value":112},{"date":"1996-05-10","series":"Ex worst 10 days","value":118},{"date":"1996-10-02","series":"Ex worst 10 days","value":122},{"date":"1997-02-01","series":"Ex worst 10 days","value":126},{"date":"1997-06-01","series":"Ex worst 10 days","value":134},{"date":"1997-10-20","series":"Ex worst 10 days","value":140},{"date":"1998-01-09","series":"Ex worst 10 days","value":151},{"date":"1998-04-28","series":"Ex worst 10 days","value":197},{"date":"1998-07-03","series":"Ex worst 10 days","value":159},{"date":"1998-09-06","series":"Ex worst 10 days","value":132},{"date":"1999-01-27","series":"Ex worst 10 days","value":171},{"date":"1999-07-06","series":"Ex worst 10 days","value":208},{"date":"1999-11-04","series":"Ex worst 10 days","value":228},{"date":"2000-01-23","series":"Ex worst 10 days","value":258},{"date":"2000-04-13","series":"Ex worst 10 days","value":228},{"date":"2000-09-21","series":"Ex worst 10 days","value":285},{"date":"2001-03-01","series":"Ex worst 10 days","value":311},{"date":"2001-05-20","series":"Ex worst 10 days","value":330},{"date":"2001-09-17","series":"Ex worst 10 days","value":246},{"date":"2001-12-25","series":"Ex worst 10 days","value":360},{"date":"2002-05-25","series":"Ex worst 10 days","value":398},
{"date":"2002-08-05","series":"Ex worst 10 days","value":303},{"date":"2002-12-21","series":"Ex worst 10 days","value":322},{"date":"2003-04-21","series":"Ex worst 10 days","value":273},{"date":"2003-07-10","series":"Ex worst 10 days","value":322},{"date":"2004-01-27","series":"Ex worst 10 days","value":398},{"date":"2004-07-06","series":"Ex worst 10 days","value":379},{"date":"2004-08-16","series":"Ex worst 10 days","value":417},{"date":"2005-03-04","series":"Ex worst 10 days","value":512},{"date":"2005-09-21","series":"Ex worst 10 days","value":645},{"date":"2006-04-10","series":"Ex worst 10 days","value":854},{"date":"2006-06-29","series":"Ex worst 10 days","value":816},{"date":"2006-10-28","series":"Ex worst 10 days","value":1043},{"date":"2007-03-19","series":"Ex worst 10 days","value":1157},{"date":"2007-07-17","series":"Ex worst 10 days","value":1290},{"date":"2007-08-16","series":"Ex worst 10 days","value":1139},{"date":"2007-10-13","series":"Ex worst 10 days","value":1385},{"date":"2007-12-03","series":"Ex worst 10 days","value":1290},{"date":"2008-01-23","series":"Ex worst 10 days","value":1120},{"date":"2008-03-15","series":"Ex worst 10 days","value":1367},{"date":"2008-05-24","series":"Ex worst 10 days","value":1481},{"date":"2008-07-14","series":"Ex worst 10 days","value":1253},{"date":"2008-11-18","series":"Ex worst 10 days","value":1082},{"date":"2009-01-09","series":"Ex worst 10 days","value":1347},
{"date":"2009-03-12","series":"Ex worst 10 days","value":1100},{"date":"2009-05-31","series":"Ex worst 10 days","value":1404},{"date":"2009-08-19","series":"Ex worst 10 days","value":1518},{"date":"2009-12-18","series":"Ex worst 10 days","value":1670},{"date":"2010-02-14","series":"Ex worst 10 days","value":1595},{"date":"2010-04-17","series":"Ex worst 10 days","value":1803},{"date":"2010-05-27","series":"Ex worst 10 days","value":1632},{"date":"2010-07-25","series":"Ex worst 10 days","value":1746},{"date":"2010-08-23","series":"Ex worst 10 days","value":1651},{"date":"2010-11-22","series":"Ex worst 10 days","value":1955},{"date":"2011-03-23","series":"Ex worst 10 days","value":2050},{"date":"2011-06-11","series":"Ex worst 10 days","value":2012},{"date":"2011-07-21","series":"Ex worst 10 days","value":2050},{"date":"2011-08-12","series":"Ex worst 10 days","value":1822},{"date":"2011-10-31","series":"Ex worst 10 days","value":2088},{"date":"2011-12-10","series":"Ex worst 10 days","value":2050},{"date":"2012-02-07","series":"Ex worst 10 days","value":2202},{"date":"2012-05-20","series":"Ex worst 10 days","value":2221},{"date":"2012-06-07","series":"Ex worst 10 days","value":2164},{"date":"2012-08-27","series":"Ex worst 10 days","value":2392},{"date":"2012-10-28","series":"Ex worst 10 days","value":2467},{"date":"2013-01-16","series":"Ex worst 10 days","value":2695},{"date":"2013-03-15","series":"Ex worst 10 days","value":2714},{"date":"2013-04-13","series":"Ex worst 10 days","value":2563},{"date":"2013-06-04","series":"Ex worst 10 days","value":2809},{"date":"2013-06-25","series":"Ex worst 10 days","value":2581},{"date":"2013-08-23","series":"Ex worst 10 days","value":2942},{"date":"2013-11-11","series":"Ex worst 10 days","value":3150},{"date":"2013-12-10","series":"Ex worst 10 days","value":2961},{"date":"2014-01-30","series":"Ex worst 10 days","value":3189},{"date":"2014-02-21","series":"Ex worst 10 days","value":3075},{"date":"2014-05-13","series":"Ex worst 10 days","value":3341},{"date":"2014-07-10","series":"Ex worst 10 days","value":3588},{"date":"2014-09-10","series":"Ex worst 10 days","value":3625},
{"date":"2014-10-09","series":"Ex worst 10 days","value":3303},{"date":"2014-11-18","series":"Ex worst 10 days","value":3568},{"date":"2014-12-18","series":"Ex worst 10 days","value":3341},{"date":"2015-02-18","series":"Ex worst 10 days","value":3759},{"date":"2015-04-28","series":"Ex worst 10 days","value":3930},{"date":"2015-07-06","series":"Ex worst 10 days","value":3568},{"date":"2015-08-27","series":"Ex worst 10 days","value":3455},{"date":"2015-10-28","series":"Ex worst 10 days","value":3948},{"date":"2015-12-14","series":"Ex worst 10 days","value":3531},{"date":"2016-01-23","series":"Ex worst 10 days","value":3398},{"date":"2016-04-13","series":"Ex worst 10 days","value":3930},{"date":"2016-06-04","series":"Ex worst 10 days","value":4005},{"date":"2016-08-05","series":"Ex worst 10 days","value":3967},{"date":"2016-10-02","series":"Ex worst 10 days","value":3891},{"date":"2016-12-10","series":"Ex worst 10 days","value":3682},{"date":"2017-01-20","series":"Ex worst 10 days","value":3967},{"date":"2017-03-01","series":"Ex worst 10 days","value":3834},{"date":"2017-05-13","series":"Ex worst 10 days","value":4119},{"date":"2017-06-22","series":"Ex worst 10 days","value":3872},{"date":"2017-08-08","series":"Ex worst 10 days","value":4252},{"date":"2017-10-28","series":"Ex worst 10 days","value":4556},{"date":"2017-11-29","series":"Ex worst 10 days","value":4708},{"date":"2017-12-18","series":"Ex worst 10 days","value":4442},{"date":"2018-01-27","series":"Ex worst 10 days","value":4745},{"date":"2018-02-25","series":"Ex worst 10 days","value":4556},{"date":"2018-04-06","series":"Ex worst 10 days","value":4290},{"date":"2018-05-16","series":"Ex worst 10 days","value":4556},{"date":"2018-06-25","series":"Ex worst 10 days","value":4385},{"date":"2018-08-05","series":"Ex worst 10 days","value":4537},{"date":"2018-09-06","series":"Ex worst 10 days","value":4708},{"date":"2018-09-25","series":"Ex worst 10 days","value":4404},{"date":"2018-10-24","series":"Ex worst 10 days","value":4100},{"date":"2018-11-22","series":"Ex worst 10 days","value":4024},{"date":"2018-12-25","series":"Ex worst 10 days","value":4119},{"date":"2019-01-23","series":"Ex worst 10 days","value":4290},{"date":"2019-03-04","series":"Ex worst 10 days","value":4480},{"date":"2019-04-03","series":"Ex worst 10 days","value":4631},{"date":"2019-04-24","series":"Ex worst 10 days","value":4784},{"date":"2019-05-13","series":"Ex worst 10 days","value":4594},{"date":"2019-06-04","series":"Ex worst 10 days","value":4404}
]
},
"spacing":42,
"center":true,
"vconcat":[
{"hconcat":[
{"width":1478,"height":5,"view":{"fill":"#8B7D6E","stroke":null},"data":{"values":[]},"mark":"point"},
{"width":30,"height":5,"view":{"fill":"#8B7D6E","stroke":null},"data":{"values":[]},"mark":"point"},
{"width":12,"height":5,"view":{"fill":"#8B7D6E","stroke":null},"data":{"values":[]},"mark":"point"},
{"width":6,"height":5,"view":{"fill":"#8B7D6E","stroke":null},"data":{"values":[]},"mark":"point"},
{"width":126,"height":5,"view":{"fill":null,"stroke":null},"data":{"values":[]},"mark":"point"}
],"spacing":6},
{
"width":1434,"height":439,
"layer":[
{"data":{"name":"series"},
 "mark":{"type":"line","strokeWidth":4.5,"strokeJoin":"round"},
 "encoding":{
  "x":{"field":"date","type":"temporal",
   "scale":{"type":"utc","domain":[{"year":1995,"month":10,"date":2,"utc":true},{"year":2019,"month":6,"date":4,"utc":true}]},
   "axis":{"title":null,"grid":false,"labelExpr":"utcFormat(datum.value, '%d/%m/%Y')","labelAngle":270,"labelOverlap":false,"labelFlush":false,"labelBound":false,
    "values":[{"year":1995,"month":10,"date":2,"utc":true},{"year":1996,"month":10,"date":2,"utc":true},{"year":1997,"month":10,"date":2,"utc":true},{"year":1998,"month":10,"date":2,"utc":true},{"year":1999,"month":10,"date":2,"utc":true},{"year":2000,"month":10,"date":2,"utc":true},{"year":2001,"month":10,"date":2,"utc":true},{"year":2002,"month":10,"date":2,"utc":true},{"year":2003,"month":10,"date":2,"utc":true},{"year":2004,"month":10,"date":2,"utc":true},{"year":2005,"month":10,"date":2,"utc":true},{"year":2006,"month":10,"date":2,"utc":true},{"year":2007,"month":10,"date":2,"utc":true},{"year":2008,"month":10,"date":2,"utc":true},{"year":2009,"month":10,"date":2,"utc":true},{"year":2010,"month":10,"date":2,"utc":true},{"year":2011,"month":10,"date":2,"utc":true},{"year":2012,"month":10,"date":2,"utc":true},{"year":2013,"month":10,"date":2,"utc":true},{"year":2014,"month":10,"date":2,"utc":true},{"year":2015,"month":10,"date":2,"utc":true},{"year":2016,"month":10,"date":2,"utc":true},{"year":2017,"month":10,"date":2,"utc":true},{"year":2018,"month":10,"date":2,"utc":true}],
    "domainColor":"#000000","domainWidth":2,"tickColor":"#000000","tickWidth":2,"tickSize":6,"labelPadding":6,
    "labelFont":"Liberation Sans","labelFontSize":16.5,"labelFontWeight":"bold","labelColor":"#000000"}},
  "y":{"field":"value","type":"quantitative",
   "scale":{"domain":[0,5000],"nice":false},
   "axis":{"title":null,"grid":false,"values":[0,500,1000,1500,2000,2500,3000,3500,4000,4500,5000],
    "labelExpr":"replace(format(datum.value, ','), ',', ' ')",
    "domainColor":"#000000","domainWidth":2,"tickColor":"#000000","tickWidth":2,"tickSize":6,"labelPadding":10,
    "labelFont":"Liberation Sans","labelFontSize":16.5,"labelFontWeight":"bold","labelColor":"#000000",
    "minExtent":96,"maxExtent":96}},
  "color":{"field":"series","type":"nominal",
   "scale":{"domain":["SA Equity","Ex best 1 day","Ex best 5 days","Ex best 10 days","Ex worst 1 day","Ex worst 5 days","Ex worst 10 days"],
    "range":["#0070C0","#63BCAE","#9DADA7","#8A7B6C","#4F2150","#7E5272","#F2B21B"]},
   "legend":{"title":null,"orient":"none","legendX":22,"legendY":548,"direction":"horizontal","symbolType":"stroke","symbolStrokeWidth":6,"symbolSize":1900,
    "labelFont":"Liberation Sans","labelFontSize":17,"labelFontWeight":"bold","labelColor":"#000000","labelOffset":2,"columnPadding":17,"labelLimit":0}}
 }},
{"data":{"name":"labels"},
 "mark":{"type":"text","align":"left","baseline":"middle","dx":6,"fontSize":13,"fontWeight":"bold","font":"Liberation Sans"},
 "encoding":{
  "x":{"field":"date","type":"temporal"},
  "y":{"field":"value","type":"quantitative"},
  "text":{"field":"label"},
  "color":{"field":"series","type":"nominal",
   "scale":{"domain":["Ex worst 10 days","Ex worst 5 days","Ex worst 1 day","Ex best 1 day","Ex best 5 days","Ex best 10 days"],
    "range":["#F2B21B","#4F2150","#4F2150","#63BCAE","#9DADA7","#9DADA7"]},
   "legend":null}
 }}
],
"resolve":{"scale":{"color":"independent"}}
}
]
}
